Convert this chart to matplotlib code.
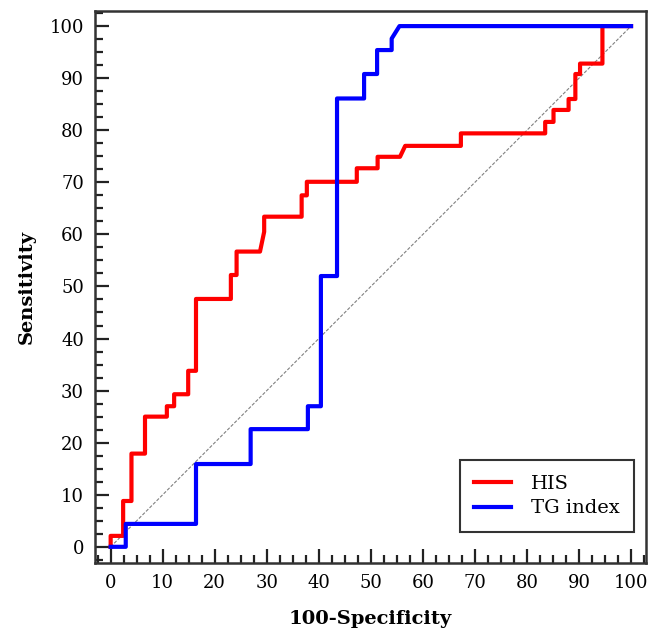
import matplotlib.pyplot as plt
from matplotlib.ticker import MultipleLocator

# ROC curve vertices (100-Specificity, Sensitivity)
his_fpr = [0, 0, 2.4, 2.4, 4.0, 4.0, 6.6, 6.6, 10.8, 10.8, 12.2, 12.2, 14.9, 14.9,
           16.4, 16.4, 23.1, 23.1, 24.2, 24.2, 28.7, 29.5, 29.5, 36.7, 36.7, 37.7,
           37.7, 47.3, 47.3, 51.3, 51.3, 55.6, 56.6, 67.3, 67.3, 83.5, 83.5, 85.1,
           85.1, 88.0, 88.0, 89.3, 89.3, 90.2, 90.2, 94.5, 94.5, 100]
his_tpr = [0, 2.1, 2.1, 8.8, 8.8, 17.9, 17.9, 25.0, 25.0, 27.0, 27.0, 29.3, 29.3, 33.8,
           33.8, 47.6, 47.6, 52.2, 52.2, 56.7, 56.7, 60.5, 63.4, 63.4, 67.5, 67.5,
           70.1, 70.1, 72.7, 72.7, 74.9, 74.9, 77.0, 77.0, 79.4, 79.4, 81.6, 81.6,
           83.9, 83.9, 86.0, 86.0, 90.8, 90.8, 92.8, 92.8, 100, 100]

tg_fpr = [0, 2.9, 2.9, 16.4, 16.4, 26.9, 26.9, 37.9, 37.9, 40.4, 40.4, 43.5, 43.5,
          48.7, 48.7, 51.2, 51.2, 54.0, 54.0, 55.5, 100]
tg_tpr = [0, 0, 4.4, 4.4, 15.9, 15.9, 22.6, 22.6, 27.0, 27.0, 52.0, 52.0, 86.1,
          86.1, 90.8, 90.8, 95.4, 95.4, 97.6, 100, 100]

plt.rcParams["font.family"] = "DejaVu Serif"

fig = plt.figure(figsize=(6.6, 6.29), dpi=100)
ax = fig.add_axes([0.144, 0.105, 0.835, 0.8775])

# chance line
ax.plot([0, 100], [0, 100], color="gray", linestyle="--", linewidth=0.8, dashes=(3, 1.5))
ax.plot(his_fpr, his_tpr, color="#ff0000", linewidth=3, label="HIS")
ax.plot(tg_fpr, tg_tpr, color="#0000ff", linewidth=3, label="TG index")

ax.xaxis.set_major_locator(MultipleLocator(10))
ax.xaxis.set_minor_locator(MultipleLocator(2.5))
ax.yaxis.set_major_locator(MultipleLocator(10))
ax.yaxis.set_minor_locator(MultipleLocator(2.5))
ax.tick_params(which="both", direction="in", top=False, right=False, width=1.6, colors="#222222")
ax.tick_params(which="major", length=10, labelsize=13, pad=8, labelcolor="black")
ax.tick_params(which="minor", length=6)
ax.set_xlim(-3.0, 102.9)
ax.set_ylim(-3.1, 102.9)
for s in ax.spines.values():
    s.set_linewidth(1.8)
    s.set_color("#333333")

ax.set_xlabel("100-Specificity", fontsize=14, fontweight="bold", labelpad=13)
ax.set_ylabel("Sensitivity", fontsize=14, fontweight="bold", labelpad=10)

leg = ax.legend(loc="lower right", bbox_to_anchor=(0.978, 0.056), borderaxespad=0,
                fancybox=False, edgecolor="black", fontsize=14, handlelength=1.9,
                handletextpad=1.0, borderpad=0.75, labelspacing=0.35)
leg.get_frame().set_linewidth(1.5)

fig.savefig("out.png", dpi=100)
